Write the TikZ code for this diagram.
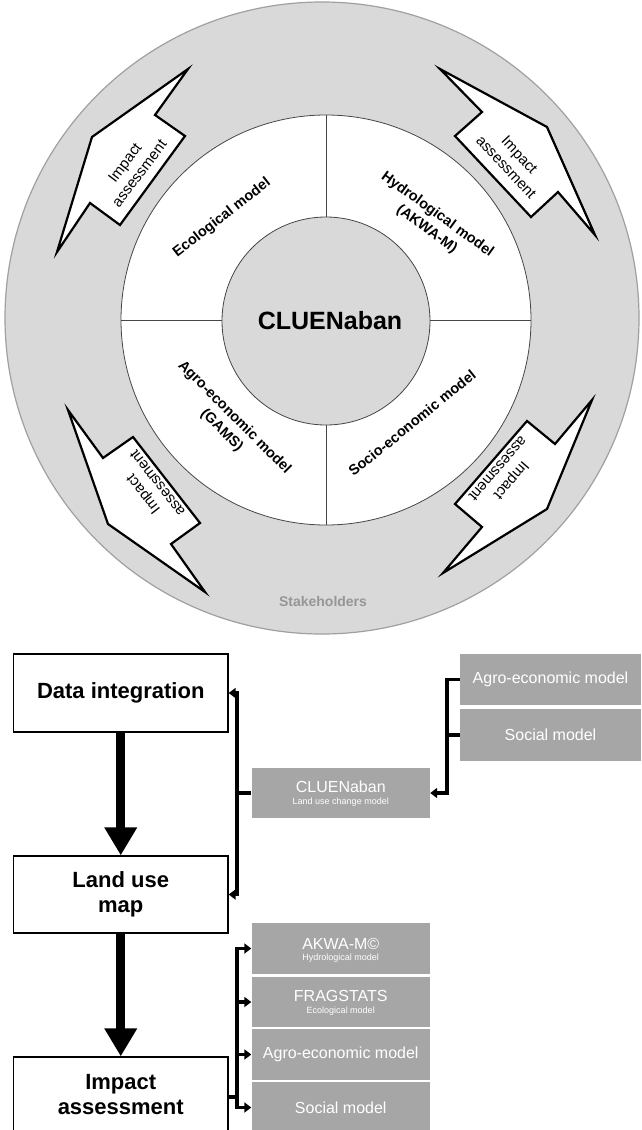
\documentclass[tikz,border=0pt]{standalone}
\usepackage{fontspec}
\setmainfont{Liberation Sans}
\usetikzlibrary{arrows.meta}
\definecolor{ringgray}{RGB}{217,217,217}
\definecolor{edgegray}{RGB}{160,160,160}
\definecolor{linegray}{RGB}{70,70,70}
\definecolor{boxgray}{RGB}{166,166,166}
\definecolor{stakegray}{RGB}{150,150,150}
\begin{document}
\begin{tikzpicture}[x=1pt,y=-1pt,
  ringtext/.style={font=\fontsize{14.5}{18}\selectfont\bfseries, align=center, inner sep=0pt},
  arrowtext/.style={font=\fontsize{15}{18}\selectfont, align=center, inner sep=0pt},
  impactarrow/.style={draw=black, fill=white, line width=2.2pt, line join=miter, miter limit=10},
  ringline/.style={draw=linegray, line width=0.8pt},
  whitebox/.style={draw=black, line width=1.3pt, fill=white, minimum width=214.5pt, inner sep=0pt, align=center, font=\fontsize{22}{25}\selectfont\bfseries},
  graybox/.style={fill=boxgray, text=white, inner sep=0pt, minimum width=178.5pt, minimum height=51pt, font=\fontsize{16}{16}\selectfont},
  subtext/.style={text=white, inner sep=0pt, font=\fontsize{9}{9}\selectfont},
  bigarrow/.style={line width=9pt, -{Triangle[width=31pt,length=28pt]}},
  bracket/.style={line width=3.2pt},
  brkarrow/.style={-{Triangle[width=10pt,length=7pt]}}
]
\useasboundingbox (0,0) rectangle (641,1130);

% ---- ring diagram ----
\draw[draw=edgegray, line width=1.2pt, fill=ringgray] (322,318) ellipse [x radius=317pt, y radius=316pt];
\draw[ringline, fill=white] (326,320) circle [radius=205pt];
\draw[ringline] (326,115) -- (326,525);
\draw[ringline] (121,320) -- (531,320);
\draw[ringline, fill=ringgray] (326,321) circle [radius=104pt];
\node[font=\fontsize{25}{25}\selectfont\bfseries, inner sep=0pt] (core) at (330,321) {CLUENaban};

\node[ringtext, rotate=38] (eco) at (222,218) {Ecological model};
\node[ringtext, rotate=-36] (hyd) at (432,222) {Hydrological model\\(AKWA-M)};
\node[ringtext, rotate=-45] (agr) at (228,424) {Agro-economic model\\(GAMS)};
\node[ringtext, rotate=39] (soc) at (412,423) {Socio-economic model};

% impact assessment arrows
\draw[impactarrow] (188,69) -- (155,115) -- (185,136) -- (120,225) -- (90,203) -- (57,252) -- (92,137) -- cycle;
\draw[impactarrow] (440,69) -- (482,112) -- (455,136) -- (531,217) -- (558,192) -- (595,235) -- (547,127) -- cycle;
\draw[impactarrow] (68,410) -- (103,458) -- (133,437) -- (200,523) -- (171,544) -- (205,592) -- (108,524) -- cycle;
\draw[impactarrow] (443,573) -- (482,527) -- (455,504) -- (527,421) -- (555,444) -- (592,400) -- (547,509) -- cycle;
\node[arrowtext, rotate=53] (ia1) at (132,168) {Impact\\assessment};
\node[arrowtext, rotate=-47] (ia2) at (513,161) {Impact\\assessment};
\node[arrowtext, rotate=128] (ia3) at (150,489) {Impact\\assessment};
\node[arrowtext, rotate=-131] (ia4) at (505,475) {Impact\\assessment};

\node[font=\fontsize{14}{14}\selectfont\bfseries, text=stakegray, inner sep=0pt] (stake) at (323,601) {Stakeholders};

% ---- flow chart ----
\node[whitebox, minimum height=78pt] (data) at (120.75,693) {Data integration};
\node[whitebox, minimum height=77pt] (land) at (120.75,894.5) {Land use\\map};
\node[whitebox, minimum height=76pt] (impact) at (120.75,1095) {Impact\\assessment};
\draw[bigarrow] (data.south) -- (land.north);
\draw[bigarrow] (land.south) -- (impact.north);

\node[graybox, minimum height=50pt] (clue) at (340.75,793) {};
\node[inner sep=0pt, text=white, font=\fontsize{16}{16}\selectfont] (cluet) at ([yshift=6pt]clue.center) {CLUENaban};
\node[subtext] (clues) at ([yshift=-9pt]clue.center) {Land use change model};

\node[graybox, minimum width=181pt] (agro1) at (550.5,679.5) {Agro-economic model};
\node[graybox, minimum width=181pt, minimum height=52pt] (soc1) at (550.5,735) {Social model};

\node[graybox] (akwa) at (340.75,948.5) {};
\node[inner sep=0pt, text=white, font=\fontsize{16}{16}\selectfont] (akwat) at ([yshift=5pt]akwa.center) {AKWA-M\textcopyright};
\node[subtext] (akwas) at ([yshift=-10pt]akwa.center) {Hydrological model};
\node[graybox, minimum height=50pt] (frag) at (340.75,1002) {};
\node[inner sep=0pt, text=white, font=\fontsize{16}{16}\selectfont] (fragt) at ([yshift=6pt]frag.center) {FRAGSTATS};
\node[subtext] (frags) at ([yshift=-9pt]frag.center) {Ecological model};
\node[graybox] (agro2) at (340.75,1054.5) {Agro-economic model};
\node[graybox] (soc2) at (340.75,1107.5) {Social model};

% brackets
\coordinate (j1) at (237,793);
\draw[bracket] (clue.west) -- (j1);
\draw[bracket, brkarrow] (j1) |- (data.east);
\draw[bracket, brkarrow] (j1) |- (land.east);

\coordinate (j2) at (447,793);
\draw[bracket, brkarrow] (agro1.west) -| (j2) -- (clue.east);
\draw[bracket] (soc1.west) -- (soc1.west -| j2);

\coordinate (j3) at (237,1097);
\draw[bracket] (impact.east |- j3) -- (j3);
\draw[bracket, brkarrow] (j3) |- (akwa.west);
\draw[bracket, brkarrow] (j3) |- (frag.west);
\draw[bracket, brkarrow] (j3) |- (agro2.west);
\draw[bracket, brkarrow] (j3) |- (soc2.west);
\end{tikzpicture}
\end{document}
